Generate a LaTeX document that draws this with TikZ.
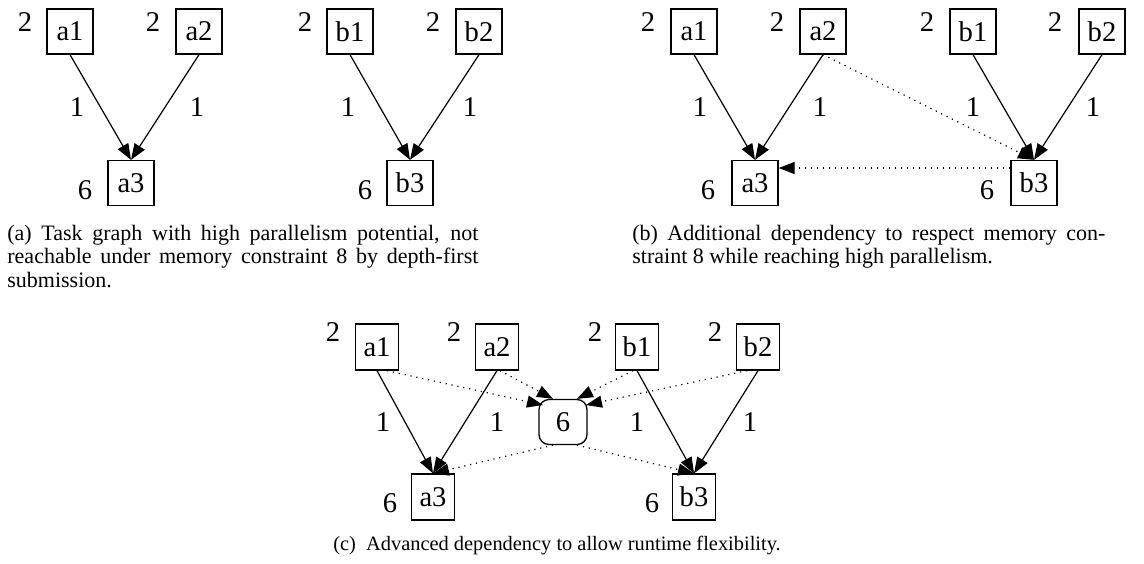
\documentclass[tikz,border=0pt]{standalone}
\usepackage{fontspec}
\setmainfont{Liberation Serif}
\usetikzlibrary{arrows.meta}
\newcommand{\gfont}{\fontsize{14.3}{16}\selectfont}
\newcommand{\cfont}{\fontsize{11}{11.75}\selectfont}
\newcommand{\ccfont}{\fontsize{10.2}{11.75}\selectfont}
\begin{document}
\begin{tikzpicture}[x=0.5pt,y=-0.5pt,
  box/.style={draw, line width=0.65pt, minimum width=23pt, minimum height=22.5pt, inner sep=0pt, font=\gfont},
  boxc/.style={box, minimum width=21.5pt, minimum height=23pt},
  rbox/.style={draw, line width=0.65pt, rounded corners=5pt, minimum width=24pt, minimum height=22.5pt, inner sep=0pt, font=\gfont},
  lab/.style={inner sep=0pt, font=\gfont},
  arr/.style={-{Triangle[length=8pt,width=6pt]}, line width=0.6pt},
  dep/.style={arr, dash pattern=on 0.6pt off 2.4pt},
  captext/.style={inner sep=0pt, anchor=base west, font=\cfont}]
\path[use as bounding box] (0,0) rectangle (1144,563);

% ---------- panel (a) ----------
\node[box] (pa-a1) at (70,31.5) {a1};
\node[box] (pa-a2) at (199,31.5) {a2};
\node[box] (pa-a3) at (131,183) {a3};
\node[lab] (pa-la1) at (25,22) {2};
\node[lab] (pa-la2) at (153,22) {2};
\node[lab] (pa-la3) at (85,190) {6};
\node[lab] (pa-e1) at (77,107) {1};
\node[lab] (pa-e2) at (197,107) {1};
\draw[arr] (pa-a1.south) -- (pa-a3.north);
\draw[arr] (pa-a2.south) -- (pa-a3.north);

\node[box] (pa-b1) at (350,31.5) {b1};
\node[box] (pa-b2) at (479,31.5) {b2};
\node[box] (pa-b3) at (410,183) {b3};
\node[lab] (pa-lb1) at (305,22) {2};
\node[lab] (pa-lb2) at (433,22) {2};
\node[lab] (pa-lb3) at (365,190) {6};
\node[lab] (pa-f1) at (348,107) {1};
\node[lab] (pa-f2) at (470,107) {1};
\draw[arr] (pa-b1.south) -- (pa-b3.north);
\draw[arr] (pa-b2.south) -- (pa-b3.north);

\node[captext] (capa) at (7,240) {\parbox[t]{235.5pt}{\cfont\emergencystretch=3em
(a) Task graph with high parallelism potential, not\linebreak
reachable under memory constraint 8 by depth-first\linebreak
submission.}};

% ---------- panel (b) ----------
\node[box] (pb-a1) at (694,31.5) {a1};
\node[box] (pb-a2) at (823,31.5) {a2};
\node[box] (pb-b1) at (973,31.5) {b1};
\node[box] (pb-b2) at (1102,31.5) {b2};
\node[box] (pb-a3) at (755,183) {a3};
\node[box] (pb-b3) at (1034,183) {b3};
\node[lab] (pb-l1) at (648,22) {2};
\node[lab] (pb-l2) at (777,22) {2};
\node[lab] (pb-l3) at (927,22) {2};
\node[lab] (pb-l4) at (1055,22) {2};
\node[lab] (pb-l5) at (708,190) {6};
\node[lab] (pb-l6) at (987,190) {6};
\node[lab] (pb-e1) at (700,107) {1};
\node[lab] (pb-e2) at (820,107) {1};
\node[lab] (pb-e3) at (973,107) {1};
\node[lab] (pb-e4) at (1093,107) {1};
\draw[arr] (pb-a1.south) -- (pb-a3.north);
\draw[arr] (pb-a2.south) -- (pb-a3.north);
\draw[arr] (pb-b1.south) -- (pb-b3.north);
\draw[arr] (pb-b2.south) -- (pb-b3.north);
\draw[dep] (pb-a2.south) -- (pb-b3.north);
\draw[dep] ([yshift=7.5pt]pb-b3.west) -- ([yshift=7.5pt]pb-a3.east);

\node[captext] (capb) at (632,240) {\parbox[t]{236.5pt}{\cfont\emergencystretch=3em
(b) Additional dependency to respect memory con-\linebreak
straint 8 while reaching high parallelism.}};

% ---------- panel (c) ----------
\node[boxc] (pc-a1) at (377,347) {a1};
\node[boxc] (pc-a2) at (497,347) {a2};
\node[boxc] (pc-b1) at (637,347) {b1};
\node[boxc] (pc-b2) at (758,347) {b2};
\node[boxc] (pc-a3) at (433,497) {a3};
\node[boxc] (pc-b3) at (694,497) {b3};
\node[rbox] (pc-m) at (563,422) {6};
\node[lab] (pc-l1) at (333,332) {2};
\node[lab] (pc-l2) at (454,332) {2};
\node[lab] (pc-l3) at (595,332) {2};
\node[lab] (pc-l4) at (715,332) {2};
\node[lab] (pc-l5) at (390,503) {6};
\node[lab] (pc-l6) at (652,503) {6};
\node[lab] (pc-e1) at (383,422) {1};
\node[lab] (pc-e2) at (497,422) {1};
\node[lab] (pc-e3) at (637,422) {1};
\node[lab] (pc-e4) at (750,422) {1};
\draw[arr] (pc-a1.south) -- (pc-a3.north);
\draw[arr] (pc-a2.south) -- (pc-a3.north);
\draw[arr] (pc-b1.south) -- (pc-b3.north);
\draw[arr] (pc-b2.south) -- (pc-b3.north);
\draw[dep] ([xshift=5pt]pc-a1.south) -- ([shift={(-20,-17)}]pc-m.center);
\draw[dep] ([xshift=1.5pt]pc-a2.south) -- ([xshift=-5pt]pc-m.north);
\draw[dep] ([xshift=-2pt]pc-b1.south) -- ([xshift=7pt]pc-m.north);
\draw[dep] ([xshift=-5.5pt]pc-b2.south) -- ([shift={(23,-17)}]pc-m.center);
\draw[dep] ([xshift=-5pt]pc-m.south) -- (pc-a3.north);
\draw[dep] ([xshift=7pt]pc-m.south) -- (pc-b3.north);

\node[captext, anchor=base, font=\ccfont] (capc) at (557,550) {(c)\hspace{0.5em}Advanced dependency to allow runtime flexibility.};
\end{tikzpicture}
\end{document}
